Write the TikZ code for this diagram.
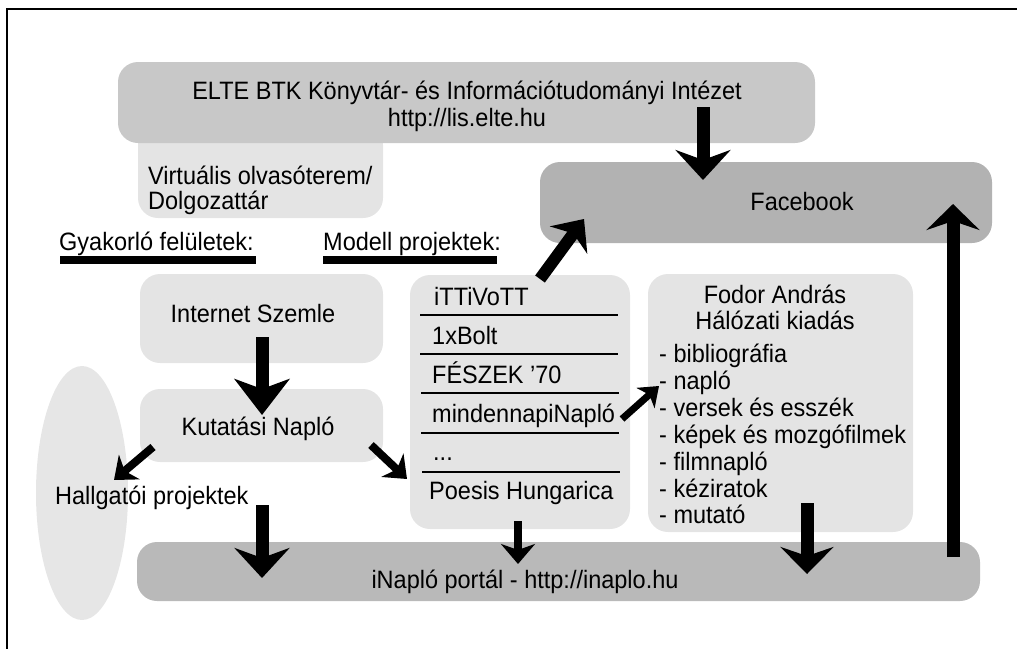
\documentclass[tikz,border=0pt]{standalone}
\usepackage{fontspec}
\setmainfont{Liberation Sans}
\usetikzlibrary{arrows.meta,shapes.geometric}
\definecolor{elteg}{RGB}{200,200,200}
\definecolor{lightg}{RGB}{228,228,228}
\definecolor{fbg}{RGB}{178,178,178}
\definecolor{inag}{RGB}{185,185,185}
\definecolor{ellg}{RGB}{230,230,230}
\newcommand{\vs}[1]{\scalebox{1}[1.07]{#1}}
\tikzset{
  box/.style={rounded corners=20pt, draw=none},
  txt/.style={inner sep=0pt, font=\fontsize{23.5}{27}\selectfont},
  bigarrow/.style={line width=13pt, -{Stealth[length=30pt,width=55pt,inset=10pt]}},
  medarrow/.style={line width=12pt, -{Stealth[length=26pt,width=46pt,inset=8pt]}},
  smallarrow/.style={line width=8pt, -{Stealth[length=20pt,width=32pt,inset=6pt]}},
  sep/.style={line width=1.8pt},
  uline/.style={fill=black, draw=none}
}
\begin{document}
\begin{tikzpicture}[x=1pt,y=-1pt]
\useasboundingbox (0,0) rectangle (1017,648);
% frame
\draw[line width=2pt] (7,650) -- (7,9) -- (1018,9);
% boxes
\fill[box, lightg] (138,125) rectangle (383,218);
\node[box, fill=elteg, minimum width=697pt, minimum height=81pt, inner sep=0pt] (elte) at (466.5,102.5) {};
\coordinate (virt) at (260,180);
\node[box, fill=fbg, minimum width=452pt, minimum height=81pt, inner sep=0pt] (fb) at (766,202.5) {};
\node[box, fill=lightg, minimum width=243pt, minimum height=89pt, inner sep=0pt] (inet) at (261.5,318.5) {};
\node[box, fill=lightg, minimum width=243pt, minimum height=73pt, inner sep=0pt] (kut) at (261.5,425.5) {};
\node[ellipse, fill=ellg, minimum width=92pt, minimum height=254pt, inner sep=0pt] (ell) at (82,493) {};
\node[box, fill=lightg, minimum width=220pt, minimum height=254pt, inner sep=0pt] (model) at (520,402) {};
\node[box, fill=lightg, minimum width=265pt, minimum height=258pt, inner sep=0pt] (fodor) at (780.5,403) {};
\node[box, fill=inag, minimum width=843pt, minimum height=59pt, inner sep=0pt] (inaplo) at (558.5,571.5) {};
% texts
\node[txt, anchor=base] (t1) at (467,99) {\vs{ELTE BTK Könyvtár- és Információtudományi Intézet}};
\node[txt, anchor=base] (t2) at (467,126) {\vs{http://lis.elte.hu}};
\node[txt, anchor=base west] (t3) at (148,184) {\vs{Virtuális olvasóterem/}};
\node[txt, anchor=base west] (t4) at (148,209) {\vs{Dolgozattár}};
\node[txt, anchor=base] (t5) at (802,210) {\vs{Facebook}};
\node[txt, anchor=base west] (t6) at (59,250) {\vs{Gyakorló felületek:}};
\node[txt, anchor=base west] (t7) at (323,250) {\vs{Modell projektek:}};
\fill[uline] (60,256) rectangle (256,264);
\fill[uline] (323,256) rectangle (497,264);
\node[txt, anchor=base] (t8) at (253,322) {\vs{Internet Szemle}};
\node[txt, anchor=base] (t9) at (258,435) {\vs{Kutatási Napló}};
\node[txt, anchor=base west] (t10) at (55,504) {\vs{Hallgatói projektek}};
\node[txt, anchor=base] (t11) at (525,588) {\vs{iNapló portál - http://inaplo.hu}};
% model list
\node[txt, anchor=base west] (m1) at (434,305) {\vs{iTTiVoTT}};
\node[txt, anchor=base west] (m2) at (432,344) {\vs{1xBolt}};
\node[txt, anchor=base west] (m3) at (432,383) {\vs{FÉSZEK '70}};
\node[txt, anchor=base west] (m4) at (432,422) {\vs{mindennapiNapló}};
\node[txt, anchor=base west] (m5) at (433,460) {\vs{...}};
\node[txt, anchor=base west] (m6) at (429,499) {\vs{Poesis Hungarica}};
\draw[sep] (420,315) -- (618,315);
\draw[sep] (420,354) -- (618,354);
\draw[sep] (421,393) -- (619,393);
\draw[sep] (421,433) -- (619,433);
\draw[sep] (422,472) -- (620,472);
% fodor
\node[txt, anchor=base] (f1) at (775,303) {\vs{Fodor András}};
\node[txt, anchor=base] (f2) at (775,329) {\vs{Hálózati kiadás}};
\node[txt, anchor=base west] (f3) at (659,362) {\vs{- bibliográfia}};
\node[txt, anchor=base west] (f4) at (659,389) {\vs{- napló}};
\node[txt, anchor=base west] (f5) at (659,416) {\vs{- versek és esszék}};
\node[txt, anchor=base west] (f6) at (659,443) {\vs{- képek és mozgófilmek}};
\node[txt, anchor=base west] (f7) at (659,470) {\vs{- filmnapló}};
\node[txt, anchor=base west] (f8) at (659,497) {\vs{- kéziratok}};
\node[txt, anchor=base west] (f9) at (659,523) {\vs{- mutató}};
% arrow end points
\coordinate (a1s) at (703,107); \coordinate (a1e) at (703,180);
\coordinate (a2s) at (540,279); \coordinate (a2e) at (584,219);
\coordinate (a3s) at (262,337); \coordinate (a3e) at (262,415);
\coordinate (a4s) at (153,447); \coordinate (a4e) at (114,480);
\coordinate (a5s) at (371,445); \coordinate (a5e) at (407,479);
\coordinate (a6s) at (262,505); \coordinate (a6e) at (262,578);
\coordinate (a7s) at (518,521); \coordinate (a7e) at (518,564);
\coordinate (a8s) at (622,419); \coordinate (a8e) at (659,386);
\coordinate (a9s) at (807,503); \coordinate (a9e) at (807,574);
\coordinate (a10s) at (953,557); \coordinate (a10e) at (953,204);
\draw[bigarrow] (a1s) -- (a1e);
\draw[medarrow] (a2s) -- (a2e);
\draw[bigarrow, -{Stealth[length=36pt,width=55pt,inset=10pt]}] (a3s) -- (a3e);
\draw[smallarrow] (a4s) -- (a4e);
\draw[smallarrow] (a5s) -- (a5e);
\draw[bigarrow] (a6s) -- (a6e);
\draw[smallarrow, -{Stealth[length=20pt,width=34pt,inset=6pt]}] (a7s) -- (a7e);
\draw[smallarrow, line width=7pt, -{Stealth[length=18pt,width=27pt,inset=5pt]}] (a8s) -- (a8e);
\draw[bigarrow, -{Stealth[length=27pt,width=53pt,inset=9pt]}] (a9s) -- (a9e);
\draw[bigarrow, -{Stealth[length=26pt,width=53pt,inset=9pt]}] (a10s) -- (a10e);
\end{tikzpicture}
\end{document}
